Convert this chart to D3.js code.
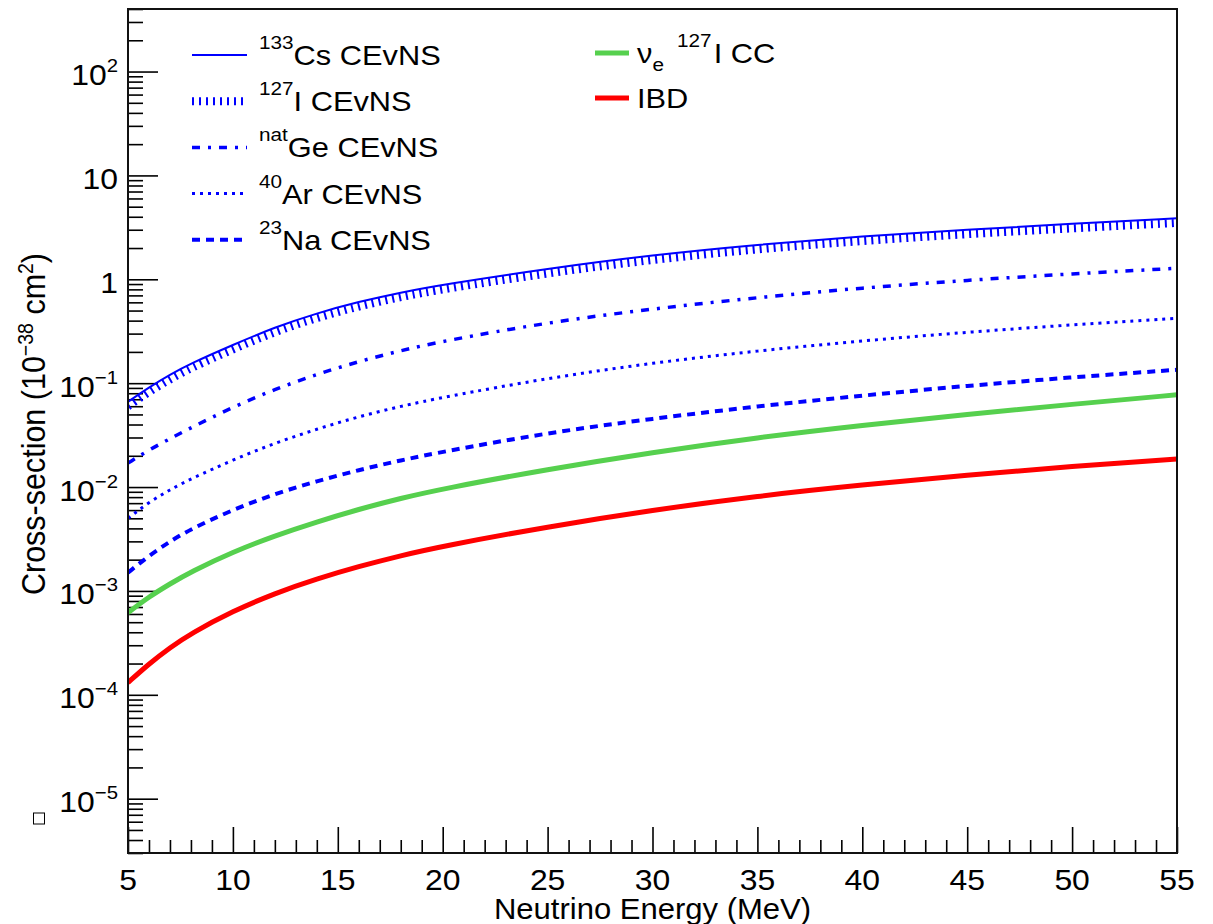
<!DOCTYPE html>
<html><head><meta charset="utf-8">
<script src="https://cdn.jsdelivr.net/npm/d3@7"></script>
<style>
html,body{margin:0;padding:0;background:#fff;}
svg{display:block;font-family:"Liberation Sans",Arial,Helvetica,sans-serif;}
</style>
</head><body>
<svg id="chart" width="1213" height="924"></svg>
<script>
// ---------------- data ----------------
const energies = [5, 6, 7, 8, 10, 12, 14, 16, 18, 20, 25, 30, 35, 40, 45, 50, 55];
const csCEvNS = [0.0661, 0.0912, 0.1208, 0.155, 0.234, 0.346, 0.472, 0.608, 0.748, 0.889, 1.27, 1.714, 2.158, 2.594, 3.013, 3.42, 3.86];
const iCEvNS  = [0.0598, 0.0825, 0.109, 0.140, 0.212, 0.313, 0.427, 0.550, 0.677, 0.804, 1.149, 1.55, 1.953, 2.347, 2.727, 3.095, 3.49];
const geCEvNS = [0.0170, 0.0228, 0.0292, 0.0372, 0.0590, 0.0875, 0.122, 0.162, 0.206, 0.254, 0.385, 0.520, 0.668, 0.828, 0.980, 1.13, 1.276];
const arCEvNS = [0.0050, 0.00715, 0.00942, 0.0120, 0.0183, 0.0265, 0.0362, 0.0477, 0.0600, 0.0731, 0.112, 0.157, 0.205, 0.256, 0.310, 0.365, 0.421];
const naCEvNS = [0.00150, 0.00218, 0.00300, 0.00395, 0.00605, 0.00863, 0.0114, 0.0146, 0.0181, 0.0219, 0.0333, 0.0456, 0.0600, 0.0760, 0.0945, 0.114, 0.1346];
const nueICC  = [0.000617, 0.000879, 0.00117, 0.00153, 0.00238, 0.00340, 0.00463, 0.00611, 0.00780, 0.00963, 0.0148, 0.0216, 0.0300, 0.0393, 0.0502, 0.0626, 0.0773];
const ibd     = [0.000131, 0.000199, 0.000284, 0.000390, 0.000640, 0.000950, 0.00131, 0.00172, 0.00219, 0.00270, 0.00415, 0.00600, 0.00820, 0.01050, 0.0130, 0.01585, 0.0186];

const xMajorTicks = [5, 10, 15, 20, 25, 30, 35, 40, 45, 50, 55];
const yMajorExps  = [-5, -4, -3, -2, -1, 0, 1, 2];
const yTickBase   = ["10", "10", "10", "10", "10", "1", "10", "10"];
const yTickSup    = ["\u22125", "\u22124", "\u22123", "\u22122", "\u22121", "", "", "2"];

const legendLeftSup  = ["133", "127", "nat", "40", "23"];
const legendLeftMain = ["Cs CEvNS", "I CEvNS", "Ge CEvNS", "Ar CEvNS", "Na CEvNS"];

// ---------------- setup ----------------
const svg = d3.select("#chart");
const L = 128, R = 1177, T = 9, B = 853;
const x = d3.scaleLinear().domain([5, 55]).range([L, R]);
const y = d3.scaleLog().domain([3e-6, 400]).range([B, T]);

const blue = "#0000ff", green = "#56d04e", red = "#ff0000";
const series = [
  {vals: iCEvNS,  color: blue,  w: 8,   dash: "2,5"},
  {vals: geCEvNS, color: blue,  w: 3.5, dash: "8,8,3,8"},
  {vals: arCEvNS, color: blue,  w: 3,   dash: "3,5"},
  {vals: naCEvNS, color: blue,  w: 4,   dash: "8,6"},
  {vals: nueICC,  color: green, w: 5,   dash: null},
  {vals: ibd,     color: red,   w: 5,   dash: null},
  {vals: csCEvNS, color: blue,  w: 2,   dash: null}
];

svg.append("defs").append("clipPath").attr("id", "clip")
  .append("rect").attr("x", L).attr("y", T).attr("width", R - L).attr("height", B - T);

// ---------------- axes ticks ----------------
const xMinor = d3.range(5, 56, 1).filter(v => v % 5 !== 0);
const yMinor = [];
for (let e = -6; e <= 2; e++) for (let m = 2; m <= 9; m++) {
  const v = m * Math.pow(10, e);
  if (v >= 3e-6 && v <= 400) yMinor.push(v);
}
const yMajor = yMajorExps.map(e => Math.pow(10, e));

function styleAxis(g) {
  g.select(".domain").remove();
  g.selectAll(".tick line").attr("stroke", "#000").attr("stroke-width", 1.6);
  g.selectAll(".tick text").remove();
}
svg.append("g").attr("transform", `translate(0,${B})`)
  .call(d3.axisBottom(x).tickValues(xMinor).tickSizeInner(-13).tickSizeOuter(0).tickFormat(""))
  .call(styleAxis);
svg.append("g").attr("transform", `translate(0,${B})`)
  .call(d3.axisBottom(x).tickValues(xMajorTicks).tickSizeInner(-26).tickSizeOuter(0).tickFormat(""))
  .call(styleAxis);
svg.append("g").attr("transform", `translate(${L},0)`)
  .call(d3.axisLeft(y).tickValues(yMinor).tickSizeInner(-15).tickSizeOuter(0).tickFormat(""))
  .call(styleAxis);
svg.append("g").attr("transform", `translate(${L},0)`)
  .call(d3.axisLeft(y).tickValues(yMajor).tickSizeInner(-30).tickSizeOuter(0).tickFormat(""))
  .call(styleAxis);

// ---------------- curves ----------------
const line = d3.line().x(d => x(d[0])).y(d => y(d[1])).curve(d3.curveBasis);
const plot = svg.append("g").attr("clip-path", "url(#clip)");
series.forEach(s => {
  const pts = energies.map((e, i) => [e, s.vals[i]]);
  const p = plot.append("path").datum(pts).attr("d", line)
    .attr("fill", "none").attr("stroke", s.color).attr("stroke-width", s.w)
    .attr("stroke-linejoin", "round");
  if (s.dash) p.attr("stroke-dasharray", s.dash);
});

// frame
svg.append("rect").attr("x", L).attr("y", T).attr("width", R - L).attr("height", B - T)
  .attr("fill", "none").attr("stroke", "#111").attr("stroke-width", 2);

// ---------------- text helper ----------------
function stext(px, py, sx, anchor, size, extra) {
  const g = svg.append("g").attr("transform", `translate(${px},${py}) scale(${sx},1)` + (extra || ""));
  return g.append("text").attr("x", 0).attr("y", 0).attr("text-anchor", anchor)
    .attr("font-size", size).attr("fill", "#000");
}

// y tick labels
yMajorExps.forEach((e, i) => {
  const t = stext(118, y(Math.pow(10, e)) + 13.5, 1.1, "end", 29);
  t.append("tspan").text(yTickBase[i]);
  if (yTickSup[i]) t.append("tspan").attr("dy", -13).attr("font-size", 18.5).text(yTickSup[i]);
});
// x tick labels
xMajorTicks.forEach(v => {
  stext(x(v), 890, 1.1, "middle", 29).text(String(v));
});
// axis titles
stext((L + R) / 2, 919, 1.07, "middle", 29).text("Neutrino Energy (MeV)");
{
  const t = stext(45, 424, 1.1, "middle", 30.5, " rotate(-90)");
  t.append("tspan").text("Cross-section (10");
  t.append("tspan").attr("dy", -11).attr("font-size", 19.5).text("\u221238");
  t.append("tspan").attr("dy", 11).text(" cm");
  t.append("tspan").attr("dy", -11).attr("font-size", 19.5).text("2");
  t.append("tspan").attr("dy", 11).text(")");
}

// ---------------- legends ----------------
const leftStyles = [series[6], series[0], series[1], series[2], series[3]];
legendLeftMain.forEach((lab, i) => {
  const base = 65 + i * 46.2;
  const s = leftStyles[i];
  const ln = svg.append("line").attr("x1", 192).attr("x2", 247).attr("y1", base - 10).attr("y2", base - 10)
    .attr("stroke", s.color).attr("stroke-width", s.w);
  if (s.dash) ln.attr("stroke-dasharray", s.dash);
  const t = stext(259, base, 1.12, "start", 27.5);
  t.append("tspan").attr("dy", -16).attr("font-size", 18.5).text(legendLeftSup[i]);
  t.append("tspan").attr("dy", 16).text(lab);
});
// right legend
svg.append("line").attr("x1", 595).attr("x2", 629).attr("y1", 53).attr("y2", 53)
  .attr("stroke", green).attr("stroke-width", 5);
svg.append("line").attr("x1", 595).attr("x2", 629).attr("y1", 98).attr("y2", 98)
  .attr("stroke", red).attr("stroke-width", 5);
{
  const t = stext(637, 62.5, 1.12, "start", 27.5);
  t.append("tspan").text("\u03bd");
  t.append("tspan").attr("dy", 8).attr("font-size", 18.5).text("e");
  t.append("tspan").attr("dy", -8).text(" ");
  t.append("tspan").attr("dy", -16).attr("dx", 4).attr("font-size", 18.5).text("127");
  t.append("tspan").attr("dy", 16).attr("dx", 2).text("I CC");
}
stext(637, 107.5, 1.12, "start", 27.5).text("IBD");

// small marker box
svg.append("rect").attr("x", 33.5).attr("y", 813).attr("width", 11).attr("height", 11)
  .attr("fill", "none").attr("stroke", "#000").attr("stroke-width", 1);
</script>
</body></html>
